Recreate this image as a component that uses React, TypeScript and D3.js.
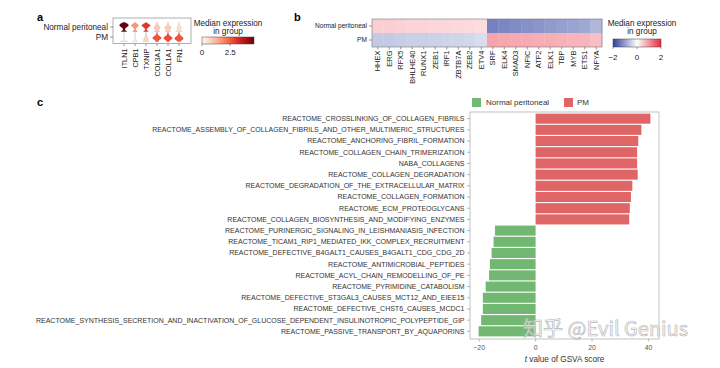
import React from 'react';
import * as d3 from 'd3';

const FONT = "'Liberation Sans', Arial, sans-serif";

// ---- panel a : stacked violins ----
const genesA = ['ITLN1', 'CPB1', 'TXNIP', 'COL3A1', 'COL1A1', 'FN1'];
const groups = ['Normal peritoneal', 'PM'];
const medianNormalA = [4.6, 1.7, 3.0, 0.9, 0.9, 0.5];
const medianPMA = [0.1, 0.05, 0.7, 2.6, 2.7, 2.6];
// relative half-widths of each violin, bottom (zero expression) to top
const shapeNormalA = [
  [0.6, 0.15, 0.2, 0.3, 0.9, 1.0, 0.8, 0.15],
  [0.5, 0.1, 0.1, 0.2, 0.7, 0.85, 0.3, 0.05],
  [0.5, 0.1, 0.15, 0.3, 0.8, 1.0, 0.4, 0.05],
  [0.6, 0.15, 0.5, 0.8, 0.5, 0.2, 0.05, 0],
  [0.6, 0.2, 0.55, 0.8, 0.45, 0.15, 0.05, 0],
  [0.7, 0.2, 0.35, 0.5, 0.3, 0.1, 0.05, 0],
];
const shapePMA = [
  [0.8, 0.05, 0.05, 0.05, 0.04, 0.03, 0, 0],
  [0.6, 0.05, 0.05, 0.03, 0, 0, 0, 0],
  [0.6, 0.45, 0.5, 0.3, 0.15, 0.05, 0, 0],
  [0.3, 0.25, 0.85, 1.0, 0.6, 0.2, 0.05, 0],
  [0.3, 0.3, 0.9, 1.0, 0.5, 0.2, 0.05, 0],
  [0.3, 0.5, 1.0, 0.9, 0.5, 0.2, 0.05, 0],
];
const ticksA = [0, 2.5];

// ---- panel b : heatmap ----
const genesB = ['HHEX', 'ERG', 'RFX5', 'BHLHE40', 'RUNX1', 'ZEB1', 'IRF1', 'ZBTB7A', 'ZEB2', 'ETV4',
  'SRF', 'ELK4', 'SMAD3', 'NFIC', 'ATF2', 'ELK1', 'TBP', 'MYB', 'ETS1', 'NFYA'];
const normalB = [0.45, 0.45, 0.42, 0.4, 0.4, 0.38, 0.38, 0.36, 0.35, 0.32,
  -1.3, -1.25, -1.2, -1.15, -1.1, -1.05, -1.0, -0.95, -0.9, -0.75];
const pmB = [-0.55, -0.55, -0.52, -0.5, -0.5, -0.48, -0.45, -0.45, -0.42, -0.35,
  0.85, 0.82, 0.8, 0.78, 0.75, 0.75, 0.72, 0.7, 0.68, 0.6];
const ticksB = [-2, 0, 2];

// ---- panel c : GSVA bars ----
const pathways = [
  'REACTOME_CROSSLINKING_OF_COLLAGEN_FIBRILS',
  'REACTOME_ASSEMBLY_OF_COLLAGEN_FIBRILS_AND_OTHER_MULTIMERIC_STRUCTURES',
  'REACTOME_ANCHORING_FIBRIL_FORMATION',
  'REACTOME_COLLAGEN_CHAIN_TRIMERIZATION',
  'NABA_COLLAGENS',
  'REACTOME_COLLAGEN_DEGRADATION',
  'REACTOME_DEGRADATION_OF_THE_EXTRACELLULAR_MATRIX',
  'REACTOME_COLLAGEN_FORMATION',
  'REACTOME_ECM_PROTEOGLYCANS',
  'REACTOME_COLLAGEN_BIOSYNTHESIS_AND_MODIFYING_ENZYMES',
  'REACTOME_PURINERGIC_SIGNALING_IN_LEISHMANIASIS_INFECTION',
  'REACTOME_TICAM1_RIP1_MEDIATED_IKK_COMPLEX_RECRUITMENT',
  'REACTOME_DEFECTIVE_B4GALT1_CAUSES_B4GALT1_CDG_CDG_2D',
  'REACTOME_ANTIMICROBIAL_PEPTIDES',
  'REACTOME_ACYL_CHAIN_REMODELLING_OF_PE',
  'REACTOME_PYRIMIDINE_CATABOLISM',
  'REACTOME_DEFECTIVE_ST3GAL3_CAUSES_MCT12_AND_EIEE15',
  'REACTOME_DEFECTIVE_CHST6_CAUSES_MCDC1',
  'REACTOME_SYNTHESIS_SECRETION_AND_INACTIVATION_OF_GLUCOSE_DEPENDENT_INSULINOTROPIC_POLYPEPTIDE_GIP',
  'REACTOME_PASSIVE_TRANSPORT_BY_AQUAPORINS',
];
const tValues = [40.7, 37.5, 36.4, 36.0, 36.0, 36.2, 34.3, 33.8, 33.4, 33.2,
  -14.4, -14.9, -15.6, -16.2, -16.5, -17.7, -18.7, -18.7, -19.3, -20.2];
const ticksC = [-20, 0, 20, 40];

const GREEN = '#72b872';
const RED = '#e06566';

function PanelA() {
  const x = d3.scaleBand().domain(genesA).range([118.5, 184.5]);
  const y = d3.scaleBand().domain(groups).range([22, 42]);
  const reds = d3.scaleSequential(d3.interpolateReds).domain([0, 4.6]);
  const cb = d3.scaleLinear().domain([0, 4.6]).range([202, 254]);
  const rows = [
    { g: groups[0], med: medianNormalA, shapes: shapeNormalA },
    { g: groups[1], med: medianPMA, shapes: shapePMA },
  ];
  const violins: any[] = [];
  rows.forEach(r => {
    const bottom = (y(r.g) as number) + y.bandwidth();
    const lv = d3.scaleLinear().domain([0, 7]).range([bottom - 0.5, bottom - 9.5]);
    genesA.forEach((gene, i) => {
      const cx = (x(gene) as number) + x.bandwidth() / 2;
      const w = r.shapes[i];
      const area = d3.area<number>()
        .x0(d => cx - Math.max(d * 4.6, 0.25))
        .x1(d => cx + Math.max(d * 4.6, 0.25))
        .y((_, j) => lv(j))
        .curve(d3.curveBasis);
      violins.push(
        <path key={r.g + gene} d={area(w) || ''} fill={reds(r.med[i])}
          stroke={d3.color(reds(r.med[i]))!.darker(0.6).toString()} strokeWidth={0.4} />
      );
    });
  });
  const stops = d3.range(0, 1.01, 0.1);
  return (
    <g fontFamily={FONT}>
      <text x={37} y={21} fontSize={11} fontWeight="bold">a</text>
      <rect x={113} y={18} width={78} height={25.5} fill="white" stroke="#777" strokeWidth={0.6} />
      {violins}
      {groups.map(g => {
        const cy = (y(g) as number) + y.bandwidth() / 2;
        return (
          <g key={g}>
            <line x1={110} x2={113} y1={cy} y2={cy} stroke="#555" strokeWidth={0.6} />
            <text x={108} y={cy} dy="0.35em" textAnchor="end" fontSize={8.2} fill="#222">{g}</text>
          </g>
        );
      })}
      {genesA.map(gene => {
        const cx = (x(gene) as number) + x.bandwidth() / 2;
        return (
          <g key={gene}>
            <line x1={cx} x2={cx} y1={43.5} y2={46} stroke="#555" strokeWidth={0.6} />
            <text transform={`translate(${cx},48.5) rotate(-90)`} dy="0.35em" textAnchor="end"
              fontSize={7.3} fill="#222">{gene}</text>
          </g>
        );
      })}
      <defs>
        <linearGradient id="gradA">
          {stops.map(s => <stop key={s} offset={s} stopColor={d3.interpolateReds(s)} />)}
        </linearGradient>
      </defs>
      <text x={228} y={25.5} textAnchor="middle" fontSize={8.2} fill="#222">Median expression</text>
      <text x={228} y={34} textAnchor="middle" fontSize={8.2} fill="#222">in group</text>
      <rect x={202} y={37} width={52} height={7} fill="url(#gradA)" stroke="#444" strokeWidth={0.5} />
      {ticksA.map(t => (
        <g key={t}>
          <line x1={cb(t)} x2={cb(t)} y1={44} y2={46} stroke="#444" strokeWidth={0.5} />
          <text x={cb(t)} y={55} textAnchor="middle" fontSize={8} fill="#222">{t}</text>
        </g>
      ))}
    </g>
  );
}

function PanelB() {
  const x = d3.scaleBand().domain(genesB).range([372, 602]);
  const y = d3.scaleBand().domain(groups).range([19, 47]);
  const cmap = d3.scaleLinear<string>().domain([-2, 0, 2])
    .range(['#2c3f9e', '#ffffff', '#e8283a']).interpolate(d3.interpolateRgb);
  const cb = d3.scaleLinear().domain([-2, 2]).range([613, 661]);
  const rows = [{ g: groups[0], v: normalB }, { g: groups[1], v: pmB }];
  const stops = d3.range(-2, 2.01, 0.25);
  return (
    <g fontFamily={FONT}>
      <text x={294} y={21} fontSize={11} fontWeight="bold">b</text>
      {rows.map(r => r.v.map((v, i) => (
        <rect key={r.g + i} x={x(genesB[i])} y={y(r.g)} width={x.bandwidth() + 0.3}
          height={y.bandwidth()} fill={cmap(v)} />
      )))}
      <rect x={372} y={19} width={230} height={28} fill="none" stroke="#777" strokeWidth={0.6} />
      {groups.map(g => {
        const cy = (y(g) as number) + y.bandwidth() / 2;
        return (
          <g key={g}>
            <line x1={369} x2={372} y1={cy} y2={cy} stroke="#555" strokeWidth={0.6} />
            <text x={367} y={cy} dy="0.35em" textAnchor="end" fontSize={6.6} fill="#222">{g}</text>
          </g>
        );
      })}
      {genesB.map(gene => {
        const cx = (x(gene) as number) + x.bandwidth() / 2;
        return (
          <g key={gene}>
            <line x1={cx} x2={cx} y1={47} y2={49.5} stroke="#555" strokeWidth={0.6} />
            <text transform={`translate(${cx},50.5) rotate(-90)`} dy="0.35em" textAnchor="end"
              fontSize={7.5} fill="#222">{gene}</text>
          </g>
        );
      })}
      <defs>
        <linearGradient id="gradB">
          {stops.map(s => <stop key={s} offset={(s + 2) / 4} stopColor={cmap(s)} />)}
        </linearGradient>
      </defs>
      <text x={642} y={25.5} textAnchor="middle" fontSize={8.2} fill="#222">Median expression</text>
      <text x={642} y={34} textAnchor="middle" fontSize={8.2} fill="#222">in group</text>
      <rect x={613} y={39} width={48} height={8} fill="url(#gradB)" stroke="#444" strokeWidth={0.5} />
      {ticksB.map(t => (
        <g key={t}>
          <line x1={cb(t)} x2={cb(t)} y1={47} y2={49} stroke="#444" strokeWidth={0.5} />
          <text x={cb(t)} y={59.5} textAnchor="middle" fontSize={8} fill="#222">{t === -2 ? '−2' : t}</text>
        </g>
      ))}
    </g>
  );
}

function PanelC() {
  const x = d3.scaleLinear().domain([-23.25, 43.75]).range([470, 659]);
  const y = d3.scaleBand().domain(pathways).range([112.5, 337.5]).padding(0.1);
  return (
    <g fontFamily={FONT}>
      <text x={37} y={106} fontSize={11} fontWeight="bold">c</text>
      <rect x={472} y={98} width={9} height={9} fill={GREEN} />
      <text x={486} y={102.5} dy="0.35em" fontSize={8} fill="#333">Normal peritoneal</text>
      <rect x={564} y={98} width={9} height={9} fill={RED} />
      <text x={577} y={102.5} dy="0.35em" fontSize={8} fill="#333">PM</text>
      <rect x={470} y={112} width={189} height={227} fill="white" stroke="#999" strokeWidth={0.6} />
      {pathways.map((p, i) => {
        const v = tValues[i];
        return (
          <rect key={p} x={x(Math.min(0, v))} y={y(p)} width={Math.abs(x(v) - x(0))}
            height={y.bandwidth()} fill={v > 0 ? RED : GREEN} />
        );
      })}
      {pathways.map(p => {
        const cy = (y(p) as number) + y.bandwidth() / 2;
        return (
          <g key={p}>
            <line x1={467} x2={470} y1={cy} y2={cy} stroke="#777" strokeWidth={0.5} />
            <text x={464.5} y={cy} dy="0.35em" textAnchor="end" fontSize={7} fill="#333">{p}</text>
          </g>
        );
      })}
      {ticksC.map(t => (
        <g key={t}>
          <line x1={x(t)} x2={x(t)} y1={339} y2={341.5} stroke="#777" strokeWidth={0.5} />
          <text x={x(t)} y={348} dy="0.35em" textAnchor="middle" fontSize={6.8} fill="#555">
            {t < 0 ? '−' + Math.abs(t) : t}
          </text>
        </g>
      ))}
      <text x={564.5} y={359.5} dy="0.35em" textAnchor="middle" fontSize={8.2} fill="#333">
        <tspan fontStyle="italic">t</tspan> value of GSVA score
      </text>
      <text x={523} y={336} fontSize={20} fontFamily="'Noto Sans CJK SC', sans-serif"
        fill="rgba(255,255,255,0.55)" stroke="#b8b8b8" strokeWidth={0.7}>知乎 @Evil Genius</text>
    </g>
  );
}

export default function App() {
  return (
    <svg width={720} height={368} style={{ position: 'absolute', left: 0, top: 0, background: 'white' }}>
      <rect width={720} height={368} fill="white" />
      <PanelA />
      <PanelB />
      <PanelC />
    </svg>
  );
}
